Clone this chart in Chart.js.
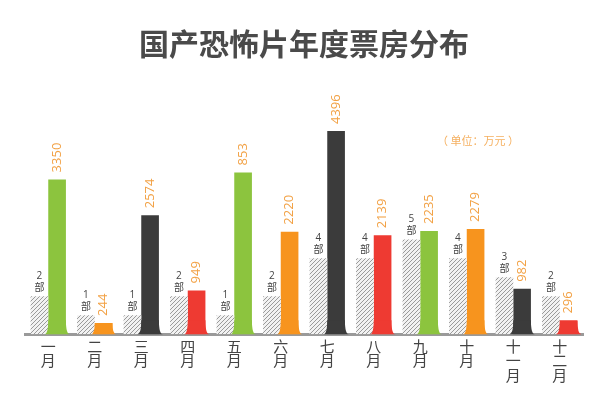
<!DOCTYPE html>
<html>
<head>
<meta charset="utf-8">
<script src="https://cdn.jsdelivr.net/npm/chart.js@4.4.1/dist/chart.umd.min.js"></script>
<style>
  html, body { margin: 0; padding: 0; background: #fff; }
  #wrap { width: 600px; height: 400px; }
</style>
</head>
<body>
<div id="wrap"><canvas id="boxChart"></canvas></div>
<script>
// months written vertically, one character per line
var months = [
  ['一','月'], ['二','月'], ['三','月'], ['四','月'], ['五','月'], ['六','月'],
  ['七','月'], ['八','月'], ['九','月'], ['十','月'], ['十','一','月'], ['十','二','月']
];
// box office (万元); May bar is drawn taller than its printed "853"
var boxOffice = [3350, 244, 2574, 949, 3500, 2220, 4396, 2139, 2235, 2279, 982, 296];
var boxLabels = ['3350', '244', '2574', '949', '853', '2220', '4396', '2139', '2235', '2279', '982', '296'];
// number of films released
var filmCount = [2, 1, 1, 2, 1, 2, 4, 4, 5, 4, 3, 2];

var palette = ['#8cc43e', '#f7941e', '#3b3b3b', '#ee3a32'];
var barColors = months.map(function (m, i) { return palette[i % 4]; });

function hatch() {
  var c = document.createElement('canvas');
  c.width = 4; c.height = 4;
  var g = c.getContext('2d');
  g.fillStyle = '#f2f2f2';
  g.fillRect(0, 0, 4, 4);
  g.strokeStyle = '#9a9a9a';
  g.lineWidth = 1;
  g.beginPath();
  g.moveTo(0, 4); g.lineTo(4, 0);
  g.moveTo(-1, 1); g.lineTo(1, -1);
  g.moveTo(3, 5); g.lineTo(5, 3);
  g.stroke();
  return g.createPattern(c, 'repeat');
}

// flared foot under each coloured bar + value labels
var decorate = {
  id: 'decorate',
  afterDatasetsDraw: function (chart) {
    var ctx = chart.ctx;
    var boxMeta = chart.getDatasetMeta(1);
    var filmMeta = chart.getDatasetMeta(0);
    ctx.save();
    boxMeta.data.forEach(function (bar, i) {
      var p = bar.getProps(['x', 'y', 'base', 'width'], true);
      var l = p.x - p.width / 2, r = p.x + p.width / 2;
      var fh = Math.min(14, p.base - p.y), fw = 4;
      ctx.fillStyle = barColors[i];
      ctx.beginPath();
      ctx.moveTo(l, p.base - fh);
      ctx.quadraticCurveTo(l, p.base, l - fw, p.base);
      ctx.lineTo(r + fw, p.base);
      ctx.quadraticCurveTo(r, p.base, r, p.base - fh);
      ctx.closePath();
      ctx.fill();

      ctx.save();
      ctx.translate(p.x, p.y - 7);
      ctx.rotate(-Math.PI / 2);
      ctx.fillStyle = '#f2a144';
      ctx.font = '13px "Open Sans", "Noto Sans"';
      ctx.textAlign = 'left';
      ctx.textBaseline = 'middle';
      ctx.fillText(boxLabels[i], 0, 0);
      ctx.restore();
    });
    filmMeta.data.forEach(function (bar, i) {
      var p = bar.getProps(['x', 'y'], true);
      ctx.fillStyle = '#444';
      ctx.textAlign = 'center';
      ctx.textBaseline = 'alphabetic';
      ctx.font = '10px "Open Sans", "Noto Sans"';
      ctx.fillText(String(filmCount[i]), p.x, p.y - 17);
      ctx.font = '10px "Noto Sans CJK SC"';
      ctx.fillText('部', p.x, p.y - 5);
    });
    ctx.fillStyle = '#f5b060';
    ctx.font = '11px "Noto Sans CJK SC"';
    ctx.textAlign = 'left';
    ctx.textBaseline = 'middle';
    ctx.fillText('（ 单位：万元 ）', 437, 141);
    ctx.restore();
  }
};

var config = {
  type: 'bar',
  data: {
    labels: months,
    datasets: [
      {
        label: '影片数量',
        data: filmCount,
        backgroundColor: hatch(),
        yAxisID: 'yFilm',
        categoryPercentage: 0.76,
        barPercentage: 1.0
      },
      {
        label: '票房',
        data: boxOffice,
        backgroundColor: barColors,
        yAxisID: 'yBox',
        categoryPercentage: 0.76,
        barPercentage: 1.0
      }
    ]
  },
  options: {
    responsive: true,
    maintainAspectRatio: false,
    animation: false,
    layout: { padding: { left: 25, right: 17, bottom: 13 } },
    plugins: {
      legend: { display: false },
      tooltip: { enabled: false },
      title: {
        display: true,
        text: '国产恐怖片年度票房分布',
        color: '#4a4a4a',
        font: { family: '"Noto Sans CJK SC"', size: 30, weight: 'bold' },
        padding: { top: 26, bottom: 18 }
      }
    },
    scales: {
      x: {
        grid: { display: false, drawTicks: false },
        border: { display: true, color: '#9a9a9a', width: 3 },
        ticks: {
          color: '#444',
          padding: 5,
          maxRotation: 0,
          autoSkip: false,
          font: { family: '"Noto Sans CJK SC"', size: 15, lineHeight: 0.95 }
        }
      },
      yBox: { display: false, min: 0, max: 5500 },
      yFilm: { display: false, min: 0, max: 13.4 }
    }
  },
  plugins: [decorate]
};

new Chart(document.getElementById('boxChart'), config);
</script>
</body>
</html>
